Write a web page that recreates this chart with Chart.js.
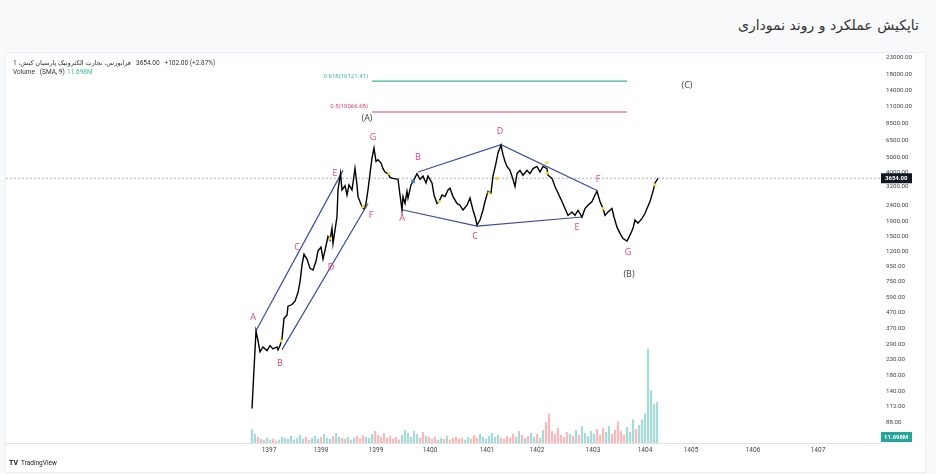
<!DOCTYPE html>
<html>
<head>
<meta charset="utf-8">
<script src="https://cdn.jsdelivr.net/npm/chart.js@4"></script>
<style>
  body { margin: 0; background: #f7f9fb; width: 936px; height: 474px; overflow: hidden; position: relative; }
  #title { position: absolute; right: 17px; top: 17px; direction: rtl; font: 14px "DejaVu Sans", sans-serif; color: #333; }
  #box { position: absolute; left: 5px; top: 52px; width: 919px; height: 419px; background: #fff; border: 1px solid #eceef2; }
  #chart { position: absolute; left: 0; top: 0; }
</style>
</head>
<body>
<div id="title">تاپکیش عملکرد و روند نموداری</div>
<div id="box"></div>
<canvas id="chart" width="936" height="474"></canvas>
<script>
// تاپکیش - daily close (bar index), log price

const xMin = -246, xMax = 628;
const yMin = 63.8, yMax = 24056;

const yearLabels = ["1397", "1398", "1399", "1400", "1401", "1402", "1403", "1404", "1405", "1406", "1407"];
const yearBars = [17, 69, 124, 178, 235, 285, 341, 393, 439, 501, 566];
const priceTicks = [88, 112, 140, 180, 230, 290, 370, 470, 590, 750, 950, 1200, 1500, 1900, 2400,
  3200, 4000, 5000, 6500, 8500, 11000, 14000, 18000, 23000];

const priceBars = [
  0, 2, 4, 6, 8, 11, 15, 18, 21, 25,
  26, 28, 30, 32, 35, 36, 40, 43, 46, 48,
  50, 52, 55, 58, 61, 64, 66, 69, 71, 74,
  76, 78, 80, 81, 83, 85, 86, 88.5, 90, 93,
  95, 97, 100, 103, 105, 106, 110, 112, 114, 116,
  118, 120, 122, 124, 126, 129, 131, 133, 136, 138,
  141, 146, 148, 150, 151, 153, 155, 156, 159, 161,
  163, 165, 168, 171, 174, 176, 180, 182, 185, 187,
  190, 193, 196, 198, 201, 205, 208, 211, 215, 218,
  221, 224, 225, 228, 231, 233, 236, 239, 241, 244,
  246, 249, 251, 253, 255, 258, 261, 263, 265, 268,
  271, 275, 278, 281, 285, 288, 291, 295, 296, 300,
  303, 306, 310, 313, 316, 320, 323, 326, 330, 333,
  336, 340, 343, 345, 348, 351, 353, 356, 360, 362,
  365, 368, 371, 375, 378, 381, 383, 386, 390, 393,
  395, 398, 401, 403, 406
];
const priceClose = [
  108, 197, 353, 305, 257, 277, 262, 283, 269, 277,
  265, 283, 313, 429, 451, 517, 530, 558, 637, 750,
  969, 1146, 1062, 921, 898, 1026, 1205, 1276, 1062, 1302,
  1500, 1418, 1707, 1348, 1651, 2029, 3056, 3940, 3056, 3260,
  2830, 3300, 3056, 4250, 3300, 2758, 2364, 2285, 2486, 3056,
  3920, 4980, 5800, 4726, 4850, 4610, 4234, 4020, 3920, 3700,
  3650, 3600, 2830, 2252, 2758, 2486, 2990, 2700, 3300, 3480,
  3690, 3920, 3600, 3780, 3400, 3780, 3400, 2830, 2486, 2560,
  2830, 2760, 3056, 3140, 2760, 2486, 2420, 2247, 2420, 2700,
  2250, 1930, 1787, 1930, 2250, 2560, 2990, 2920, 3780, 4610,
  5380, 6050, 5240, 4726, 4380, 4124, 3600, 3220, 3920, 4124,
  3830, 4124, 3920, 4234, 4380, 4020, 4380, 4234, 3830, 3650,
  3220, 2920, 2560, 2300, 2070, 2180, 2070, 2240, 2020, 2300,
  2420, 2560, 2830, 2990, 2560, 2300, 2070, 2180, 2300, 2020,
  1730, 1574, 1455, 1400, 1530, 1700, 1930, 1840, 1980, 2130,
  2300, 2560, 2990, 3400, 3654
];
const lastPrice = 3654;

// volume in millions, one bar every 3 bar-index steps from 0
const volumeM = [
  14, 9, 6, 4, 3, 5, 3, 4, 2, 3,
  6, 5, 4, 7, 3, 5, 8, 4, 6, 3,
  5, 7, 4, 6, 9, 5, 4, 7, 10, 6,
  5, 4, 6, 3, 5, 7, 4, 8, 6, 5,
  9, 12, 8, 6, 10, 5, 7, 4, 6, 3,
  8, 13, 10, 6, 12, 9, 5, 11, 7, 6,
  4, 6, 3, 5, 4, 7, 3, 5, 6, 4,
  5, 3, 6, 4, 8, 5, 9, 6, 4, 7,
  10, 6, 8, 5, 4, 7, 5, 9, 6, 12,
  8, 5, 7, 10, 6, 9, 5, 13, 21, 30,
  12, 9, 15, 8, 6, 11, 9, 7, 13, 8,
  17, 10, 7, 12, 9, 14, 8, 15, 11, 17,
  9, 13, 22, 12, 8, 16, 11, 24, 14, 18,
  24, 30, 97, 54, 40, 42
];

// drawn trend lines
const upperChannelBars = [4, 91], upperChannelPrices = [355, 4124];
const lowerChannelBars = [30, 116], lowerChannelPrices = [266, 2486];
const triangleTopBars = [166, 249, 345], triangleTopPrices = [4020, 6114, 3030];
const triangleLowBars = [150, 225, 330], triangleLowPrices = [2257, 1760, 2020];

// fibonacci targets
const fibNames = ["0.618(16121.41)", "0.5(10066.68)"];
const fibPrices = [16121.41, 10066.68];
const fibBars = [120, 375];

// wave labels
const waveNames = ["A", "B", "C", "D", "E", "F", "G", "A", "B", "C", "D", "E", "F", "G"];
const waveBars = [1, 28, 45, 79, 83, 119, 121, 150, 166, 223, 248, 325, 346, 376];
const wavePrices = [435, 216, 1276, 935, 3940, 2058, 6805, 1990, 5000, 1500, 7521, 1710, 3600, 1180];
const degreeNames = ["(A)", "(C)", "(B)"];
const degreeBars = [115, 435, 377];
const degreePrices = [9100, 15212, 840];

// event markers
const eventBars = [29, 78, 111, 137, 187, 237, 245, 295, 295, 351, 403];
const eventPrices = [304, 1455, 2364, 3920, 2560, 2920, 3650, 4632, 3950, 2300, 3300];
const splitBars = [161], splitPrices = [3480];

const pts = (xs, ys) => xs.map((x, i) => ({ x: x, y: ys[i] }));

function priceAt(b) {
  if (b <= priceBars[0]) return priceClose[0];
  for (let i = 1; i < priceBars.length; i++) {
    if (b <= priceBars[i]) {
      const t = (b - priceBars[i - 1]) / (priceBars[i] - priceBars[i - 1]);
      return priceClose[i - 1] + t * (priceClose[i] - priceClose[i - 1]);
    }
  }
  return priceClose[priceClose.length - 1];
}

const volBars = volumeM.map((v, i) => i * 3);
const volColors = volBars.map(b =>
  priceAt(b + 1.5) >= priceAt(b - 1.5) ? "rgba(38,166,154,0.4)" : "rgba(239,83,80,0.4)");

const trendBlue = "#3a4c9a";
const pink = "#e0457b";
const teal = "#3cb89a";

const overlay = {
  id: "overlay",
  afterDatasetsDraw(chart) {
    const ctx = chart.ctx;
    const x = chart.scales.x, y = chart.scales.y;
    ctx.save();
    ctx.textBaseline = "middle";

    // wave labels
    ctx.font = "9px 'Open Sans', sans-serif";
    ctx.textAlign = "center";
    ctx.fillStyle = pink;
    waveNames.forEach((n, i) => ctx.fillText(n, x.getPixelForValue(waveBars[i]), y.getPixelForValue(wavePrices[i])));
    ctx.fillStyle = "#444";
    degreeNames.forEach((n, i) => ctx.fillText(n, x.getPixelForValue(degreeBars[i]), y.getPixelForValue(degreePrices[i])));

    // fib labels
    ctx.font = "6px Roboto, sans-serif";
    ctx.textAlign = "right";
    fibNames.forEach((n, i) => {
      ctx.fillStyle = i === 0 ? teal : pink;
      ctx.fillText(n, x.getPixelForValue(fibBars[0]) - 4, y.getPixelForValue(fibPrices[i]) - 5);
    });

    // last price tag
    const py = y.getPixelForValue(lastPrice);
    ctx.fillStyle = "#131722";
    ctx.fillRect(x.right + 1, py - 5, 31, 10);
    ctx.fillStyle = "#fff";
    ctx.font = "bold 6px Roboto, sans-serif";
    ctx.textAlign = "left";
    ctx.fillText(lastPrice.toFixed(2), x.right + 5, py + 0.5);

    // volume tag
    ctx.fillStyle = "#26a69a";
    ctx.fillRect(x.right + 1, 432, 31, 10);
    ctx.fillStyle = "#fff";
    ctx.fillText("11.698M", x.right + 4, 437.5);

    // legend
    ctx.font = "6.5px Roboto, 'DejaVu Sans', sans-serif";
    ctx.fillStyle = "#333";
    ctx.direction = "rtl";
    ctx.textAlign = "left";
    ctx.fillText("فرابورس، تجارت الکترونیک پارسیان کیش، 1", 13, 63);
    ctx.direction = "ltr";
    ctx.fillText("3654.00   +102.00 (+2.87%)", 136, 63);
    ctx.fillText("Volume   (SMA, 9)", 13, 72);
    ctx.fillStyle = teal;
    ctx.fillText("11.698M", 67, 72);

    // logo
    ctx.fillStyle = "#131722";
    ctx.font = "bold 7px Roboto, sans-serif";
    ctx.fillText("TV", 9, 463);
    ctx.font = "6.5px Roboto, sans-serif";
    ctx.fillText("TradingView", 21, 463);
    ctx.restore();
  }
};

const lineSet = (data, color, extra) => Object.assign({
  type: "line", data: data, borderColor: color, borderWidth: 1.2,
  pointRadius: 0, tension: 0, yAxisID: "y", order: 1
}, extra || {});

new Chart(document.getElementById("chart"), {
  type: "bar",
  data: {
    datasets: [
      lineSet(pts(priceBars, priceClose), "#000", { borderWidth: 1.4, order: 0 }),
      {
        type: "scatter", data: pts(eventBars, eventPrices), yAxisID: "y", order: -1,
        pointStyle: "rect", pointRadius: 2, backgroundColor: "#f5d33a", borderWidth: 0
      },
      {
        type: "scatter", data: pts(splitBars, splitPrices), yAxisID: "y", order: -1,
        pointStyle: "rect", pointRadius: 2.5, backgroundColor: "#2f7fd0", borderWidth: 0
      },
      lineSet(pts(upperChannelBars, upperChannelPrices), trendBlue),
      lineSet(pts(lowerChannelBars, lowerChannelPrices), trendBlue),
      lineSet(pts(triangleTopBars, triangleTopPrices), trendBlue),
      lineSet(pts(triangleLowBars, triangleLowPrices), trendBlue),
      lineSet(pts(fibBars, [fibPrices[0], fibPrices[0]]), teal),
      lineSet(pts(fibBars, [fibPrices[1], fibPrices[1]]), pink),
      lineSet(pts([xMin, xMax], [lastPrice, lastPrice]), "#9ba0aa", { borderWidth: 0.8, borderDash: [2, 2], order: 2 }),
      {
        type: "bar", data: pts(volBars, volumeM), yAxisID: "yv", order: 3,
        backgroundColor: volColors, barThickness: 1.6
      }
    ]
  },
  options: {
    responsive: false,
    animation: false,
    devicePixelRatio: 1,
    layout: { padding: { left: 6, top: 55, right: 16, bottom: 19 } },
    plugins: { legend: { display: false }, tooltip: { enabled: false } },
    scales: {
      x: {
        type: "linear", min: xMin, max: xMax, offset: false,
        grid: { display: false, drawTicks: false },
        border: { color: "#e0e3eb" },
        afterBuildTicks: s => { s.ticks = yearBars.map(v => ({ value: v })); },
        afterFit: s => { s.height = 12; },
        ticks: {
          autoSkip: false, maxRotation: 0, padding: 3,
          color: "#444", font: { size: 6.5, family: "Roboto" },
          callback: v => yearLabels[yearBars.indexOf(v)]
        }
      },
      y: {
        type: "logarithmic", position: "right", min: yMin, max: yMax,
        grid: { display: false, drawTicks: false },
        border: { display: false },
        afterBuildTicks: s => { s.ticks = priceTicks.map(v => ({ value: v })); },
        afterFit: s => { s.width = 40; },
        ticks: {
          padding: 6, color: "#444", font: { size: 6.2, family: "Roboto" },
          callback: v => Number(v).toFixed(2)
        }
      },
      yv: { type: "linear", display: false, min: 0, max: 400 }
    }
  },
  plugins: [overlay]
});
</script>
</body>
</html>
